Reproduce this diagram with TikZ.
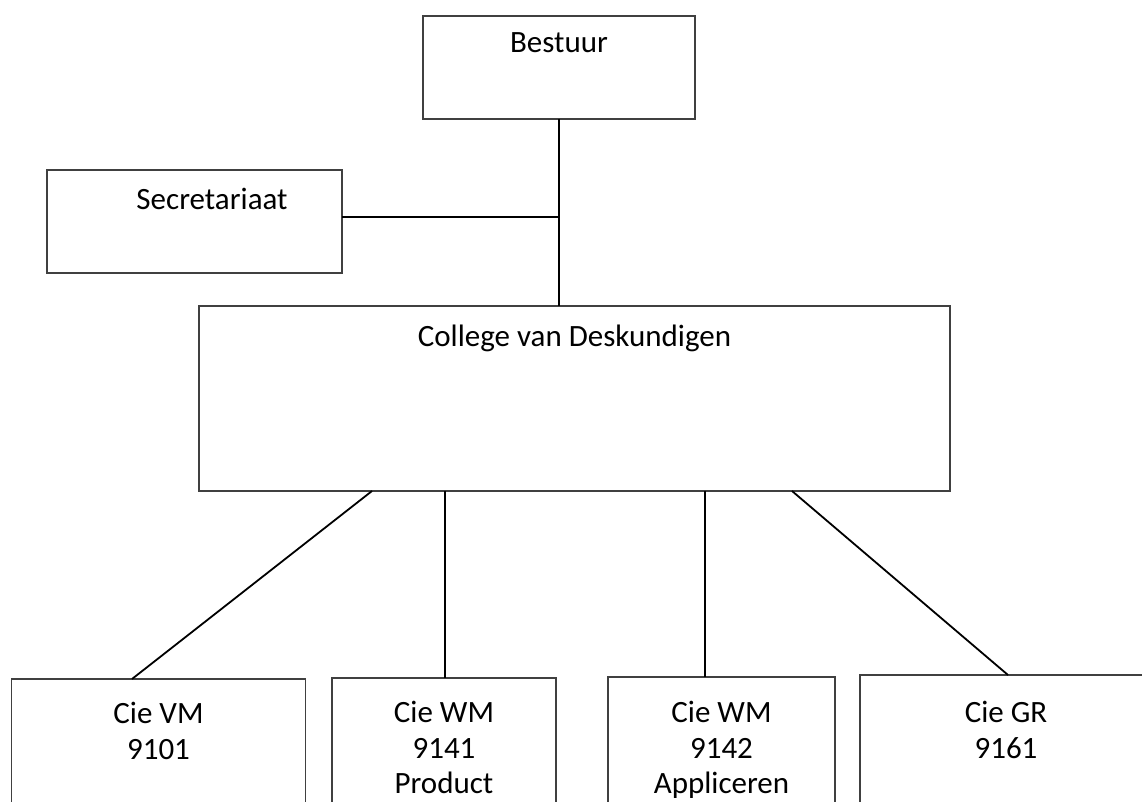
\documentclass[tikz,border=0pt]{standalone}
\usepackage{fontspec}
\setmainfont{Carlito}
\usepackage{tikz}
\usetikzlibrary{positioning,calc}

\begin{document}
\begin{tikzpicture}[
    x=0.5pt, y=-0.5pt,
    box/.style={rectangle, draw=black!75, line width=0.8pt, inner sep=0pt,
                outer sep=0pt, anchor=north west},
    boxtext/.style={font=\fontsize{15.5}{17.8}\selectfont, align=center,
                    inner sep=0pt},
    link/.style={line width=0.9pt},
]
\useasboundingbox (0,0) rectangle (1142,802);
\clip (0,0) rectangle (1142,802);

% Top of the chart
\node[box, minimum width=136pt, minimum height=51.5pt] (bestuur) at (423,16) {};
\node[boxtext, below=8pt of bestuur.north] (bestuurtext) {Bestuur};
\node[box, minimum width=147.5pt, minimum height=51.5pt] (secr) at (47,170) {};
\node[boxtext, below=9pt of secr.north, xshift=8.75pt] (secrtext) {Secretariaat};
\node[box, minimum width=375.5pt, minimum height=92.5pt] (college) at (199,306) {};
\node[boxtext, below=9.5pt of college.north] (collegetext) {College van Deskundigen};

% Committees (cut off at the bottom)
\node[box, minimum width=147pt, minimum height=80pt] (cievm) at (11.5,679) {};
\node[box, minimum width=112pt, minimum height=80pt] (ciewma) at (332,678) {};
\node[box, minimum width=113.5pt, minimum height=80pt] (ciewmb) at (608,677) {};
\node[box, minimum width=146pt, minimum height=80pt] (ciegr) at (860,675) {};
\node[boxtext, below=11.5pt of cievm.north] (cievmtext) {Cie VM\\9101};
\node[boxtext, below=11.5pt of ciewma.north] (ciewmatext) {Cie WM\\9141\\Product};
\node[boxtext, below=12pt of ciewmb.north] (ciewmbtext) {Cie WM\\9142\\Appliceren};
\node[boxtext, below=13pt of ciegr.north] (ciegrtext) {Cie GR\\9161};

% Connectors
\draw[link] (bestuur.south) -- (bestuur.south |- college.north);
\draw[link] ([yshift=2.25pt]secr.east) -- ([yshift=2.25pt]secr.east -| bestuur.south);
\draw[link] ($(college.south west)+(173,0)$) -- ($(cievm.north west)+(120.5,0)$);
\draw[link] ($(college.south west)+(246,0)$) -- ($(ciewma.north west)+(113,0)$);
\draw[link] ($(college.south west)+(506,0)$) -- ($(ciewmb.north west)+(97,0)$);
\draw[link] ($(college.south west)+(593,0)$) -- ($(ciegr.north west)+(148,0)$);
\end{tikzpicture}
\end{document}
